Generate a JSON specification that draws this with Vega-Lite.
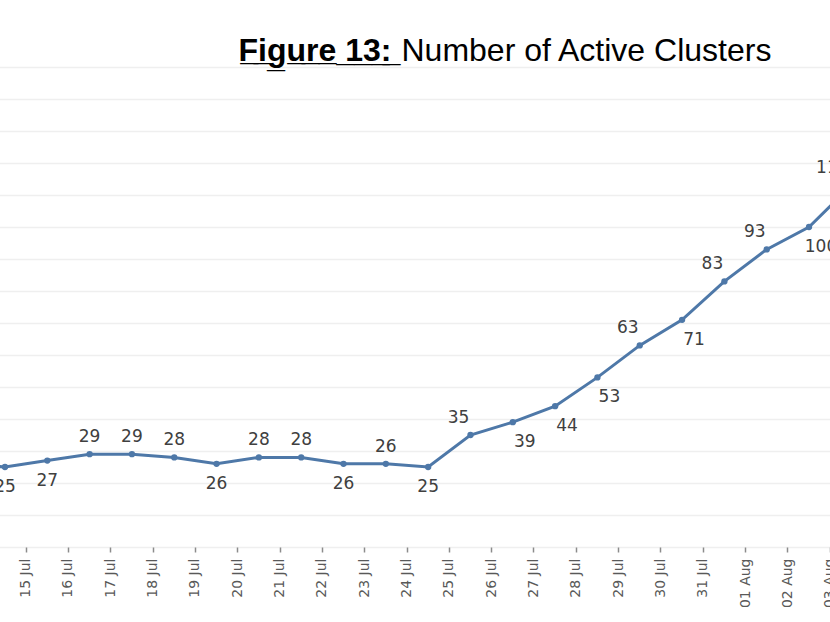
{
  "$schema": "https://vega.github.io/schema/vega-lite/v6.json",
  "width": 830,
  "height": 480,
  "autosize": {"type": "none"},
  "padding": {"left": 0, "right": 0, "top": 67, "bottom": 75},
  "background": "white",
  "config": {"view": {"stroke": null}},
  "data": {
    "values": [
      {"date": "13 Jul", "clusters": 26},
      {"date": "14 Jul", "clusters": 25},
      {"date": "15 Jul", "clusters": 27},
      {"date": "16 Jul", "clusters": 29},
      {"date": "17 Jul", "clusters": 29},
      {"date": "18 Jul", "clusters": 28},
      {"date": "19 Jul", "clusters": 26},
      {"date": "20 Jul", "clusters": 28},
      {"date": "21 Jul", "clusters": 28},
      {"date": "22 Jul", "clusters": 26},
      {"date": "23 Jul", "clusters": 26},
      {"date": "24 Jul", "clusters": 25},
      {"date": "25 Jul", "clusters": 35},
      {"date": "26 Jul", "clusters": 39},
      {"date": "27 Jul", "clusters": 44},
      {"date": "28 Jul", "clusters": 53},
      {"date": "29 Jul", "clusters": 63},
      {"date": "30 Jul", "clusters": 71},
      {"date": "31 Jul", "clusters": 83},
      {"date": "01 Aug", "clusters": 93},
      {"date": "02 Aug", "clusters": 100},
      {"date": "03 Aug", "clusters": 113}
    ]
  },
  "encoding": {
    "x": {
      "field": "date",
      "type": "ordinal",
      "sort": null,
      "scale": {"type": "band", "range": [-58.5, 872.5], "paddingInner": 0, "paddingOuter": 0},
      "axis": {
        "bandPosition": 0,
        "labelOffset": -21.2,
        "labelAngle": -90,
        "labelFont": "DejaVu Sans",
        "labelFontSize": 14,
        "labelColor": "#595959",
        "labelPadding": 6,
        "labelOverlap": false,
        "labelBound": false,
        "ticks": true,
        "tickSize": 5,
        "tickColor": "#8c8c8c",
        "tickWidth": 1.5,
        "domain": false,
        "grid": false,
        "title": "F̲i̲g̲u̲r̲e̲ ̲1̲3̲:̲",
        "titleFont": "Liberation Sans",
        "titleFontSize": 32,
        "titleFontWeight": "bold",
        "titleColor": "#000000",
        "titleAngle": 0,
        "titleAlign": "left",
        "titleBaseline": "alphabetic",
        "titleX": 238,
        "titleY": -487
      }
    },
    "y": {
      "field": "clusters",
      "type": "quantitative",
      "scale": {"domain": [0, 150], "nice": false},
      "axis": {
        "values": [0, 10, 20, 30, 40, 50, 60, 70, 80, 90, 100, 110, 120, 130, 140, 150],
        "labels": false,
        "ticks": false,
        "domain": false,
        "grid": true,
        "gridColor": "#efefef",
        "gridWidth": 1.5,
        "title": "Number of Active Clusters",
        "titleFont": "Liberation Sans",
        "titleFontSize": 32,
        "titleFontWeight": "normal",
        "titleColor": "#000000",
        "titleAngle": 0,
        "titleAlign": "left",
        "titleBaseline": "alphabetic",
        "titleX": 401,
        "titleY": -7
      }
    }
  },
  "layer": [
    {
      "mark": {"type": "line", "color": "#4e78a8", "strokeWidth": 3,
        "point": {"filled": true, "size": 40, "color": "#4e78a8"}}
    },
    {
      "transform": [{"filter": {"field": "date", "oneOf": ["16 Jul", "17 Jul", "18 Jul", "20 Jul", "21 Jul", "23 Jul"]}}],
      "mark": {"type": "text", "font": "DejaVu Sans", "fontSize": 17, "color": "#404040", "baseline": "middle", "align": "center", "dy": -17},
      "encoding": {"text": {"field": "clusters", "type": "quantitative"}}
    },
    {
      "transform": [{"filter": {"field": "date", "oneOf": ["13 Jul", "14 Jul", "15 Jul", "19 Jul", "22 Jul", "24 Jul"]}}],
      "mark": {"type": "text", "font": "DejaVu Sans", "fontSize": 17, "color": "#404040", "baseline": "middle", "align": "center", "dy": 20},
      "encoding": {"text": {"field": "clusters", "type": "quantitative"}}
    },
    {
      "transform": [{"filter": {"field": "date", "oneOf": ["25 Jul", "29 Jul", "31 Jul", "01 Aug"]}}],
      "mark": {"type": "text", "font": "DejaVu Sans", "fontSize": 17, "color": "#404040", "baseline": "middle", "align": "center", "dx": -12, "dy": -17},
      "encoding": {"text": {"field": "clusters", "type": "quantitative"}}
    },
    {
      "transform": [{"filter": {"field": "date", "oneOf": ["03 Aug"]}}],
      "mark": {"type": "text", "font": "DejaVu Sans", "fontSize": 17, "color": "#404040", "baseline": "middle", "align": "center", "dx": -19, "dy": -17},
      "encoding": {"text": {"field": "clusters", "type": "quantitative"}}
    },
    {
      "transform": [{"filter": {"field": "date", "oneOf": ["26 Jul", "27 Jul", "28 Jul", "30 Jul", "02 Aug"]}}],
      "mark": {"type": "text", "font": "DejaVu Sans", "fontSize": 17, "color": "#404040", "baseline": "middle", "align": "center", "dx": 12, "dy": 20},
      "encoding": {"text": {"field": "clusters", "type": "quantitative"}}
    }
  ]
}
